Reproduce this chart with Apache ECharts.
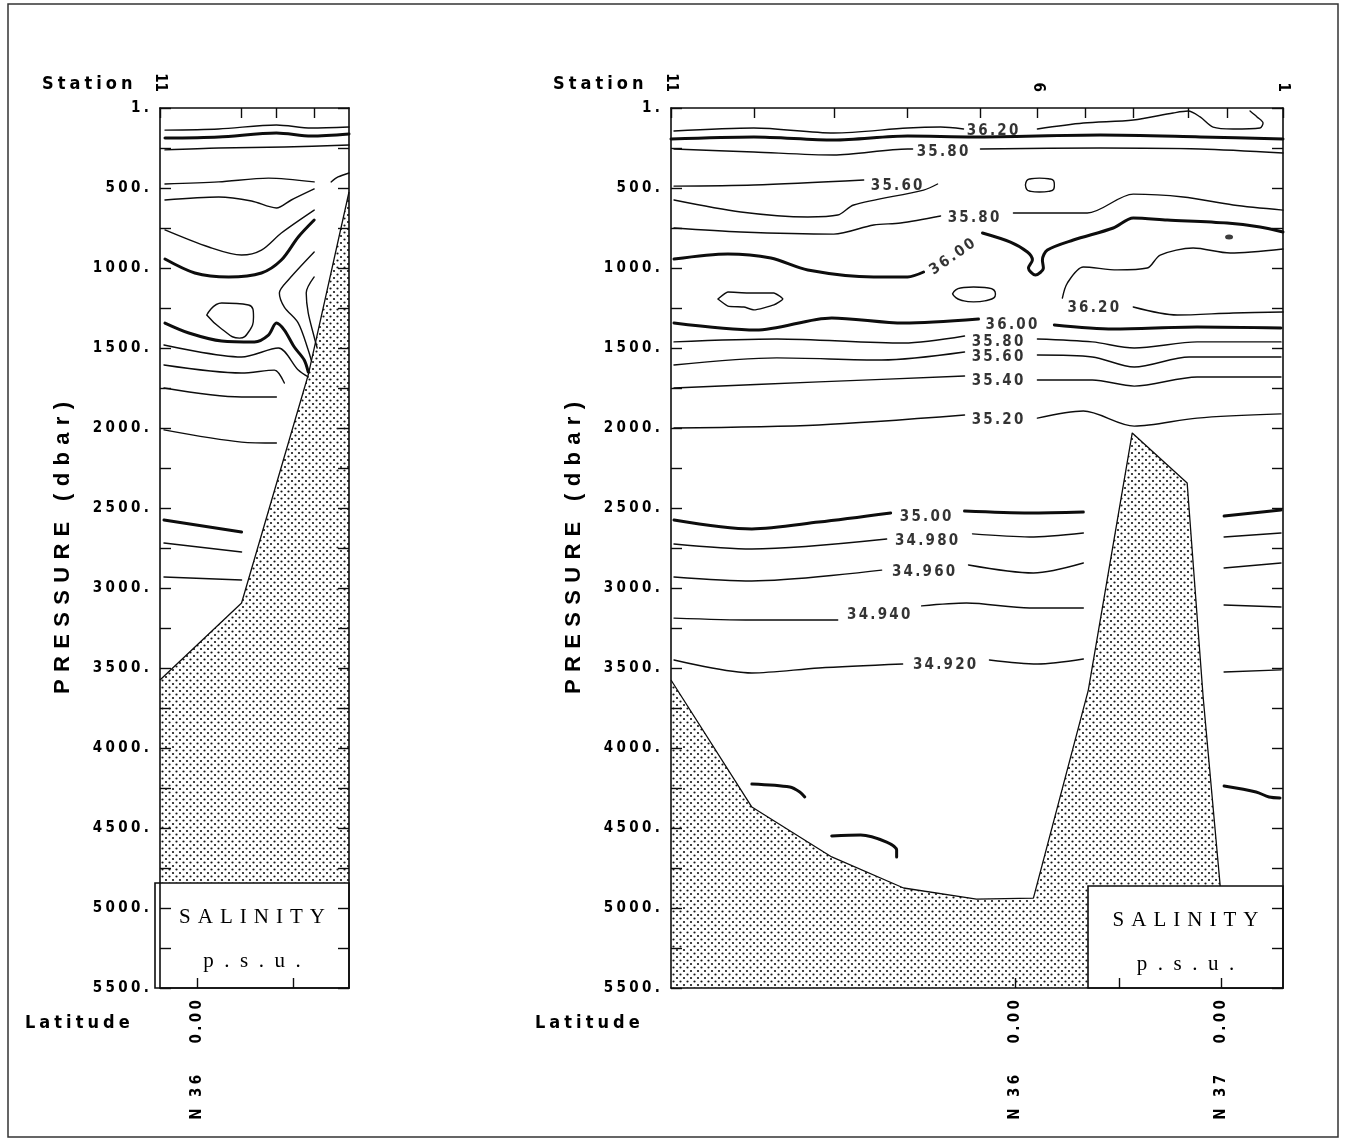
<!DOCTYPE html>
<html>
<head>
<meta charset="utf-8">
<title>Salinity sections</title>
<script src="https://cdn.jsdelivr.net/npm/echarts@6/dist/echarts.min.js"></script>
<style>
  html, body { margin: 0; padding: 0; background: #fff; }
  #chart { width: 1346px; height: 1140px; }
</style>
</head>
<body>
<div id="chart"></div>
<script>
// ---------- axes ----------
const pressureMax = 5500;          // dbar
const pressureStep = 250;          // tick spacing, labels every 500
const westLength = 190;            // along-section distance of the short western section
const eastLength = 613;            // along-section distance of the long eastern section

// station ticks along the top edge (distance) and the numbers printed there
const westStations = [0, 82, 117, 155];
const westStationNames = ['11', '', '', ''];
const eastStations = [0, 83, 164, 237, 310, 367, 415, 463, 518, 557, 613];
const eastStationNames = ['11', '', '', '', '', '6', '', '', '', '', '1'];

// latitude ticks along the bottom edge
const westLatTicks = [37, 134];
const westLatNames = ['N 36  0.00', ''];
const eastLatTicks = [345, 449, 551];
const eastLatNames = ['N 36  0.00', '', 'N 37  0.00'];

// ---------- western section: isohalines [distance, pressure] ----------
const w3620 = [[5,138],[59,131],[117,106],[152,125],[190,119]];
const w3600top = [[5,188],[59,181],[117,156],[152,175],[190,162]];
const w3580top = [[5,262],[59,250],[125,244],[190,231]];
const w3560a = [[5,475],[59,462],[109,438],[155,462]];
const w3560b = [[172,462],[179,431],[190,406]];
const w3580a = [[5,575],[59,556],[92,581],[117,625],[132,575],[155,506]];
const w3580b = [[5,762],[49,869],[82,919],[102,888],[122,781],[155,638]];
const w3600mid = [[5,944],[35,1031],[69,1056],[102,1031],[122,950],[139,806],[155,700]];
const w3620a = [[155,900],[129,1075],[120,1156],[125,1244],[139,1344],[149,1512],[152,1575]];
const w3620b = [[155,1056],[147,1156],[149,1281],[155,1431],[158,1500]];
const w3620eddy = [[47,1294],[62,1219],[89,1231],[94,1306],[89,1400],[80,1438],[62,1381],[47,1294]];
const w3600low = [[5,1344],[29,1406],[62,1456],[95,1462],[109,1419],[117,1344],[125,1388],[135,1494],[145,1575],[149,1650]];
const w3580low = [[4,1481],[82,1556],[119,1500],[139,1638],[149,1681]];
const w3560low = [[4,1606],[82,1656],[115,1638],[125,1719]];
const w3540 = [[4,1750],[82,1806],[117,1806]];
const w3520 = [[4,2012],[82,2088],[117,2094]];
const w3500 = [[4,2575],[82,2650]];
const w34980 = [[4,2719],[82,2775]];
const w34960 = [[4,2931],[82,2950]];
const westSeabed = [[0,3575],[82,3094],[149,1669],[190,525]];

// ---------- eastern section: isohalines [distance, pressure] ----------
const e3620top = [[3,144],[83,125],[163,156],[237,125],[270,119],[293,131]];
const e3620topB = [[367,131],[413,94],[463,75],[503,31],[518,19],[530,56],[543,119],[563,131],[590,125],[593,94],[587,56],[580,19]];
const e3600top = [[0,194],[83,181],[163,200],[237,175],[303,181],[430,169],[530,181],[613,194]];
const e3580top = [[3,256],[83,275],[163,294],[237,256],[242,256]];
const e3580topB = [[310,256],[430,250],[530,256],[613,281]];
const e3560a = [[3,488],[83,481],[193,450]];
const e3560b = [[267,475],[253,513],[183,606],[167,669],[137,681],[70,650],[3,575]];
const e3560eddy = [[355,481],[359,444],[369,438],[380,444],[384,481],[380,519],[369,525],[359,519],[355,481]];
const e3580mid = [[3,750],[70,775],[163,788],[203,731],[230,719],[270,675]];
const e3580midB = [[343,656],[417,656],[463,538],[513,556],[563,606],[613,638]];
const e3600mid = [[3,944],[57,912],[100,938],[137,1012],[203,1056],[237,1056],[253,1025]];
const e3600midB = [[312,781],[340,838],[357,900],[362,950],[358,1000],[365,1044],[373,1000],[372,950],[377,888],[403,825],[443,750],[463,688],[497,700],[557,719],[590,744],[613,775]];
const e3620mid = [[613,881],[560,906],[523,875],[490,919],[477,1000],[447,1012],[413,994],[397,1094],[392,1188]];
const e3620midB = [[463,1244],[507,1294],[563,1281],[613,1275]];
const e3620eddyA = [[47,1194],[57,1150],[77,1156],[103,1156],[112,1194],[103,1231],[83,1262],[73,1244],[57,1238],[47,1194]];
const e3620eddyB = [[282,1162],[290,1125],[303,1119],[318,1125],[325,1162],[318,1200],[303,1212],[290,1200],[282,1162]];
const e3600low = [[3,1344],[85,1388],[161,1312],[233,1344],[308,1319]];
const e3600lowB = [[384,1356],[443,1381],[527,1369],[611,1375]];
const e3580low = [[3,1462],[106,1444],[233,1469],[294,1425]];
const e3580lowB = [[367,1444],[422,1462],[464,1500],[527,1462],[611,1462]];
const e3560low = [[3,1606],[106,1562],[211,1575],[294,1525]];
const e3560lowB = [[367,1544],[422,1556],[464,1619],[519,1556],[611,1556]];
const e3540 = [[3,1750],[148,1712],[294,1675]];
const e3540B = [[367,1700],[422,1700],[464,1738],[527,1681],[611,1681]];
const e3520 = [[3,2000],[148,1981],[294,1919]];
const e3520B = [[367,1938],[413,1894],[464,1988],[527,1938],[611,1912]];
const e3500 = [[3,2575],[81,2631],[148,2588],[220,2531]];
const e3500B = [[294,2519],[359,2531],[413,2525]];
const e3500C = [[554,2550],[611,2512]];
const e34980 = [[3,2725],[81,2756],[216,2694]];
const e34980B = [[302,2662],[359,2681],[413,2656]];
const e34980C = [[554,2681],[611,2656]];
const e34960 = [[3,2931],[81,2956],[211,2888]];
const e34960B = [[298,2856],[363,2906],[413,2844]];
const e34960C = [[554,2875],[611,2844]];
const e34940 = [[3,3188],[81,3200],[167,3200]];
const e34940B = [[251,3112],[296,3094],[359,3125],[413,3125]];
const e34940C = [[554,3106],[611,3119]];
const e34920 = [[3,3450],[81,3531],[148,3500],[232,3475]];
const e34920B = [[319,3450],[367,3475],[413,3444]];
const e34920C = [[554,3525],[611,3512]];
const eDeepA = [[81,4225],[119,4244],[129,4275],[134,4306]];
const eDeepB = [[161,4550],[190,4544],[216,4588],[226,4638],[226,4681]];
const eDeepC = [[554,4238],[586,4275],[599,4306],[610,4312]];
const eCore = [[559,806]];
const eastSeabed = [[0,3575],[81,4369],[161,4681],[233,4875],[306,4944],[363,4938],[418,3638],[462,2031],[517,2344],[533,3681],[550,4856],[552,5500],[613,5500]];

// contour labels: text and where it sits [distance, pressure]
const eastLabelText = ['36.20','35.80','35.60','35.80','36.00','36.20','36.00','35.80','35.60','35.40','35.20','35.00','34.980','34.960','34.940','34.920'];
const eastLabelAt = [[322,144],[272,275],[226,488],[303,688],[282,931],[423,1250],[341,1356],[327,1462],[327,1559],[327,1706],[327,1950],[255,2556],[256,2706],[253,2900],[208,3169],[274,3481]];

// ---------- drawing ----------
const ink = '#0d0d0d';
const G3 = '\u2004', G4 = '\u2005', G6 = '\u2006';
const spaced = (s, g) => s.split('').join(g);
const narrow = "'Liberation Sans Narrow','DejaVu Sans Condensed','Liberation Sans',sans-serif";

// stipple used for the sea floor
const stipple = (() => {
  const c = document.createElement('canvas');
  c.width = 7; c.height = 7;
  const g = c.getContext('2d');
  g.fillStyle = '#ffffff';
  g.fillRect(0, 0, 7, 7);
  g.fillStyle = '#151515';
  [[1.5, 1.5], [5, 5]].forEach(([x, y]) => {
    g.beginPath(); g.arc(x, y, 1.1, 0, Math.PI * 2); g.fill();
  });
  return c;
})();

const thin = 1.4, thick = 3.0;
const panel = { west: { x: 0, y: 0 }, east: { x: 2, y: 2 } };

function isohaline(data, p, width, smooth) {
  return {
    type: 'line', xAxisIndex: p.x, yAxisIndex: p.y, data,
    symbol: 'none', smooth: smooth == null ? 0.3 : smooth, silent: true, z: 3,
    lineStyle: { color: ink, width, cap: 'round', join: 'round' }
  };
}
function seabed(data, p) {
  return {
    type: 'line', xAxisIndex: p.x, yAxisIndex: p.y, data,
    symbol: 'none', silent: true, z: 1,
    lineStyle: { color: ink, width: 1.3 },
    areaStyle: { color: { image: stipple, repeat: 'repeat' }, opacity: 1, origin: 'end' }
  };
}

const westThin = [w3620, w3580top, w3560a, w3560b, w3580a, w3580b, w3620a, w3620b, w3580low, w3560low, w3540, w3520, w34980, w34960];
const westThick = [w3600top, w3600mid, w3600low, w3500];
const eastThin = [e3620top, e3620topB, e3580top, e3580topB, e3560a, e3560b, e3580mid, e3580midB,
  e3620mid, e3620midB, e3580low, e3580lowB, e3560low, e3560lowB, e3540, e3540B, e3520, e3520B,
  e34980, e34980B, e34980C, e34960, e34960B, e34960C, e34940, e34940B, e34940C, e34920, e34920B, e34920C];
const eastThick = [e3600top, e3600mid, e3600midB, e3600low, e3600lowB, e3500, e3500B, e3500C, eDeepA, eDeepB, eDeepC];
const eastEddies = [e3560eddy, e3620eddyB];

const series = [seabed(westSeabed, panel.west), seabed(eastSeabed, panel.east)];
westThin.forEach(d => series.push(isohaline(d, panel.west, thin)));
westThick.forEach(d => series.push(isohaline(d, panel.west, thick)));
series.push(isohaline(w3620eddy, panel.west, thin, 0.5));
eastThin.forEach(d => series.push(isohaline(d, panel.east, thin)));
eastThick.forEach(d => series.push(isohaline(d, panel.east, thick)));
eastEddies.forEach(d => series.push(isohaline(d, panel.east, thin, 0.6)));
series.push(isohaline(e3620eddyA, panel.east, thin, 0.15));
series.push({
  type: 'scatter', xAxisIndex: 2, yAxisIndex: 2, data: eCore, silent: true, z: 3,
  symbol: 'circle', symbolSize: [8, 5], itemStyle: { color: ink }
});
series.push({
  type: 'scatter', xAxisIndex: 2, yAxisIndex: 2, silent: true, z: 4,
  symbolSize: 1, itemStyle: { color: 'rgba(0,0,0,0)' },
  data: eastLabelAt.map((v, i) => ({
    name: eastLabelText[i], value: v,
    label: { rotate: i === 4 ? 35 : 0 }
  })),
  label: {
    show: true, position: 'inside', formatter: d => spaced(d.name, G6),
    fontFamily: narrow, fontWeight: 'bold', fontSize: 15, color: '#000'
  }
});

const tickFont = { fontFamily: narrow, fontWeight: 'bold', fontSize: 15, color: '#000' };
const pick = (ticks, names) => v => {
  const i = ticks.findIndex(t => Math.abs(t - v) < 1e-6);
  return i < 0 ? '' : names[i];
};
const latFormat = (ticks, names) => v => {
  const s = pick(ticks, names)(v);
  if (!s) return '';
  const [n, deg, min] = s.split(/\s+/);
  return spaced(n + ' ' + deg, G4) + '\u2003\u2003\u2004' + spaced(min, G4);
};

function xPair(grid, max, latTicks, latNames, stations, stationNames) {
  const line = { show: true, onZero: false, lineStyle: { color: ink, width: 1.6 } };
  const labelled = (ticks, names) => ticks.filter((t, i) => names[i]);
  return [
    {
      gridIndex: grid, type: 'value', position: 'bottom', min: 0, max, z: 10,
      axisLine: line, splitLine: { show: false },
      axisTick: { show: true, inside: true, length: 10, customValues: latTicks, lineStyle: { color: ink, width: 1.4 } },
      axisLabel: Object.assign({ show: true, customValues: labelled(latTicks, latNames), rotate: 90, margin: 12,
        formatter: latFormat(latTicks, latNames) }, tickFont, { fontSize: 15 })
    },
    {
      gridIndex: grid, type: 'value', position: 'top', min: 0, max, z: 10,
      axisLine: line, splitLine: { show: false },
      axisTick: { show: true, inside: true, length: 10, customValues: stations, lineStyle: { color: ink, width: 1.4 } },
      axisLabel: Object.assign({ show: true, customValues: labelled(stations, stationNames), rotate: 90, margin: 16,
        formatter: pick(stations, stationNames) }, tickFont, { fontSize: 15 })
    }
  ];
}
function yPair(grid) {
  const line = { show: true, onZero: false, lineStyle: { color: ink, width: 1.6 } };
  const tick = { show: true, inside: true, length: 11, lineStyle: { color: ink, width: 1.4 } };
  return [
    {
      gridIndex: grid, type: 'value', inverse: true, min: 0, max: pressureMax, interval: pressureStep,
      position: 'left', z: 10, axisLine: line, axisTick: tick, splitLine: { show: false },
      name: spaced('PRESSURE (dbar)', G3), nameLocation: 'middle', nameGap: 86,
      nameTextStyle: { fontFamily: "'Liberation Sans',Arial,sans-serif", fontWeight: 'bold', fontSize: 22, color: '#000' },
      axisLabel: Object.assign({ show: true, margin: 11, padding: [9, 0, 0, 0],
        formatter: v => v % 500 === 0 ? spaced(v === 0 ? '1.' : v + '.', G4) : '' }, tickFont)
    },
    {
      gridIndex: grid, type: 'value', inverse: true, min: 0, max: pressureMax, interval: pressureStep,
      position: 'right', z: 10, axisLine: line, axisTick: tick, splitLine: { show: false },
      axisLabel: { show: false }
    }
  ];
}

const headFont = { fontFamily: narrow, fontWeight: 'bold', fontSize: 18, fill: '#000' };
const boxFont = { fontFamily: "'Liberation Serif','Times New Roman',serif", fontSize: 21, fill: '#000' };
function caption(text, x, y, font, align) {
  return { type: 'text', x, y, z: 12, silent: true,
    style: Object.assign({ text, textAlign: align || 'left', textVerticalAlign: 'middle' }, font) };
}
function legendBox(x, y, w, h) {
  return [
    { type: 'rect', z: 8, silent: true, shape: { x, y, width: w, height: h },
      style: { fill: '#fff', stroke: ink, lineWidth: 1.6 } },
    caption(spaced('SALINITY', G3), x + w / 2, y + 34, boxFont, 'center'),
    caption(spaced('p.s.u.', '\u2002'), x + w / 2, y + 78, boxFont, 'center')
  ];
}

const chart = echarts.init(document.getElementById('chart'), null, { renderer: 'canvas' });
chart.setOption({
  backgroundColor: '#ffffff',
  animation: false,
  grid: [
    { left: 160, top: 108, width: 189, height: 880, containLabel: false, outerBoundsMode: 'none' },
    { left: 671, top: 108, width: 612, height: 880, containLabel: false, outerBoundsMode: 'none' }
  ],
  xAxis: [
    ...xPair(0, westLength, westLatTicks, westLatNames, westStations, westStationNames),
    ...xPair(1, eastLength, eastLatTicks, eastLatNames, eastStations, eastStationNames)
  ],
  yAxis: [...yPair(0), ...yPair(1)],
  series,
  graphic: {
    elements: [
      { type: 'rect', z: 0, silent: true, shape: { x: 8, y: 4, width: 1330, height: 1133 },
        style: { fill: 'none', stroke: '#333', lineWidth: 1.5 } },
      caption(spaced('Station', G4), 42, 84, headFont),
      caption(spaced('Station', G4), 553, 84, headFont),
      caption(spaced('Latitude', G4), 25, 1023, headFont),
      caption(spaced('Latitude', G4), 535, 1023, headFont),
      ...legendBox(155, 883, 194, 105),
      ...legendBox(1088, 886, 195, 102)
    ]
  }
});
</script>
</body>
</html>
